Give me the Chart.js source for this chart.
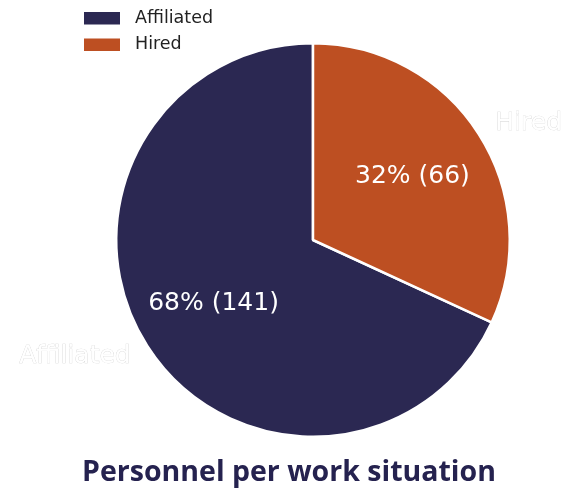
<!DOCTYPE html>
<html>
<head>
<meta charset="utf-8">
<script src="https://cdn.jsdelivr.net/npm/chart.js@4.4.1/dist/chart.umd.min.js"></script>
<style>
  html, body { margin: 0; padding: 0; background: #ffffff; }
  #wrap { width: 567px; height: 495px; position: relative; }
</style>
</head>
<body>
<div id="wrap"><canvas id="c" width="567" height="495"></canvas></div>
<script>
// Work situation categories and head counts
const categories = ['Affiliated', 'Hired'];
const counts = [141, 66];
const colors = ['#2b2852', '#bd4f22'];
const chartTitle = 'Personnel per work situation';

const total = counts.reduce((a, b) => a + b, 0);
// Start the first slice so that the last one begins at 12 o'clock
const startDeg = 360 * counts[1] / total;

// Draws legend, percentage labels, outer category labels and title
const annotate = {
  id: 'annotate',
  afterDatasetsDraw(chart) {
    const ctx = chart.ctx;
    const meta = chart.getDatasetMeta(0);
    ctx.save();

    // legend in the top-left corner
    ctx.font = '17.5px "DejaVu Sans"';
    ctx.textBaseline = 'middle';
    ctx.textAlign = 'left';
    categories.forEach((name, i) => {
      const y = 18 + i * 26.5;
      ctx.fillStyle = colors[i];
      ctx.fillRect(84, y - 6, 36, 12.5);
      ctx.fillStyle = '#222222';
      ctx.fillText(name, 135, y);
    });

    meta.data.forEach((arc, i) => {
      const p = arc.getProps(['x', 'y', 'startAngle', 'endAngle', 'outerRadius'], true);
      const mid = (p.startAngle + p.endAngle) / 2;
      const r = p.outerRadius;
      // percentage + count
      const pct = Math.round(100 * counts[i] / total);
      ctx.font = '25px "DejaVu Sans"';
      ctx.textAlign = 'center';
      ctx.fillStyle = '#ffffff';
      ctx.fillText(pct + '% (' + counts[i] + ')', p.x + Math.cos(mid) * r * 0.6, p.y + Math.sin(mid) * r * 0.6);
      // category name outside the pie
      const lx = p.x + Math.cos(mid) * r * 1.1;
      const ly = p.y + Math.sin(mid) * r * 1.1;
      ctx.font = '25px "DejaVu Sans"';
      ctx.textAlign = Math.cos(mid) >= 0 ? 'left' : 'right';
      ctx.lineWidth = 0.6;
      ctx.strokeStyle = 'rgba(190,190,190,0.7)';
      ctx.strokeText(categories[i], lx, ly);
      ctx.fillStyle = '#ffffff';
      ctx.fillText(categories[i], lx, ly);
    });

    // title below the pie
    ctx.font = 'bold 28.5px "Open Sans"';
    ctx.textAlign = 'center';
    ctx.fillStyle = '#25224f';
    ctx.fillText(chartTitle, 289, 473);
    ctx.restore();
  }
};

new Chart(document.getElementById('c'), {
  type: 'pie',
  data: {
    labels: categories,
    datasets: [{
      data: counts,
      backgroundColor: colors,
      borderColor: '#ffffff',
      borderWidth: 2.5,
      hoverOffset: 0
    }]
  },
  options: {
    responsive: false,
    animation: false,
    rotation: startDeg,
    layout: { padding: { top: 42, bottom: 57, left: 59, right: 0 } },
    plugins: {
      legend: { display: false },
      tooltip: { enabled: false }
    }
  },
  plugins: [annotate]
});
</script>
</body>
</html>
